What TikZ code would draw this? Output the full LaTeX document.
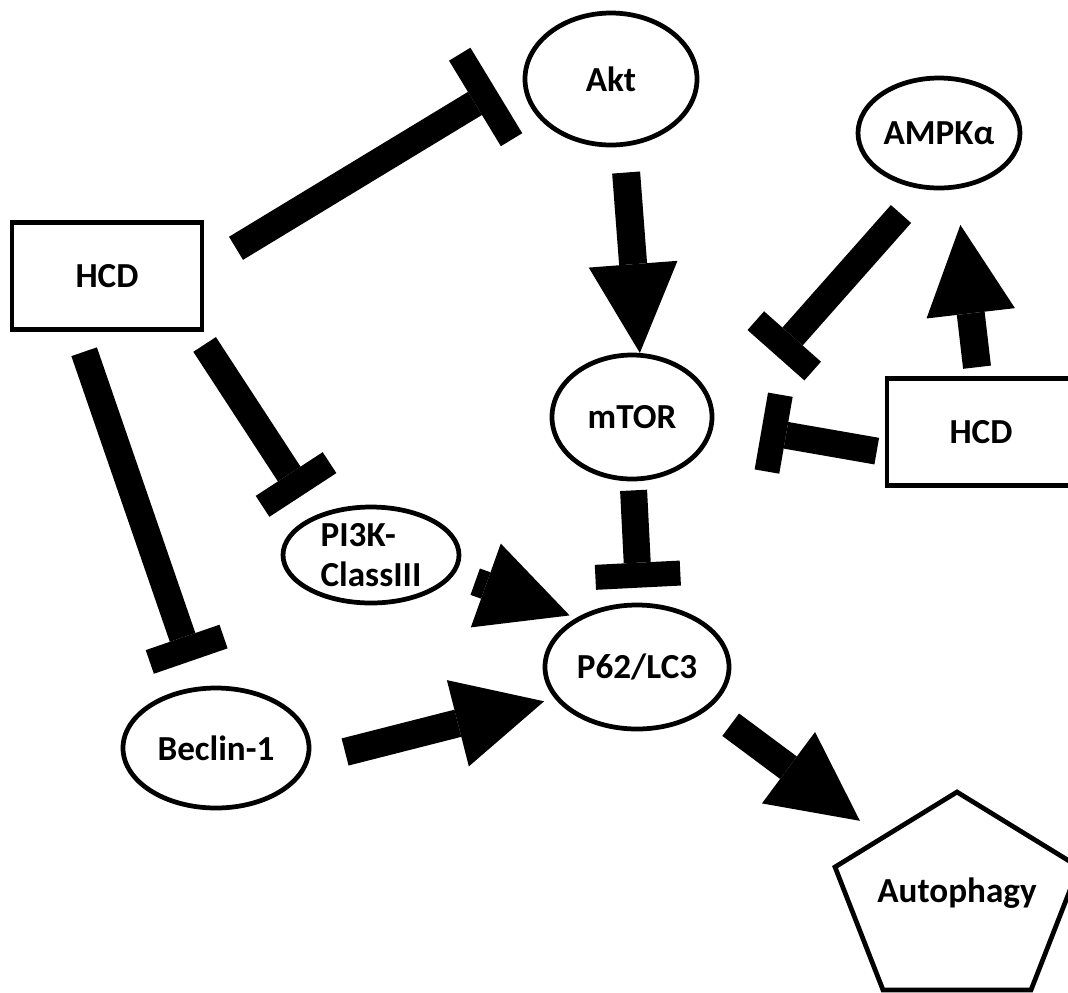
\documentclass[tikz,border=0pt]{standalone}
\usepackage{fontspec}
\setmainfont{Carlito}
\usetikzlibrary{arrows.meta,shapes.geometric}

\tikzset{
  lbl/.style={font=\fontsize{10pt}{11.5pt}\selectfont\bfseries},
  mol/.style={ellipse,draw,line width=1.35pt,inner sep=0pt,lbl},
  hcdbox/.style={rectangle,draw,line width=1.35pt,inner sep=0pt,
    minimum width=1.9cm,minimum height=1.07cm,lbl},
  act/.style={line width=2.8mm,-{Triangle[length=8.9mm,width=8.9mm,line width=0pt]}},
  inh/.style={line width=2.7mm,-{Rectangle[length=2.5mm,width=#1,line width=0pt]}},
  inh/.default=8mm
}

\begin{document}
\begin{tikzpicture}
\useasboundingbox (0,0) rectangle (10.68,-9.92);

% nodes
\node[hcdbox] (hcdl) at (1.07,-2.76) {HCD};
\node[hcdbox,minimum width=1.88cm] (hcdr) at (9.81,-4.32) {HCD};
\node[mol,minimum width=1.72cm,minimum height=1.32cm] (akt) at (6.11,-0.79) {Akt};
\node[mol,minimum width=1.62cm,minimum height=1.10cm] (ampk) at (9.39,-1.33) {AMPKα};
\node[mol,minimum width=1.60cm,minimum height=1.24cm] (mtor) at (6.32,-4.17) {mTOR};
\node[mol,minimum width=1.76cm,minimum height=0.96cm,align=left] (pik) at (3.71,-5.55) {PI3K-\\ClassIII};
\node[mol,minimum width=1.84cm,minimum height=1.24cm] (p62) at (6.37,-6.67) {P62/LC3};
\node[mol,minimum width=1.86cm,minimum height=1.20cm] (bec) at (2.16,-7.48) {Beclin-1};

% autophagy pentagon
\draw[line width=1.35pt] (9.57,-7.92) -- (10.79,-8.67) -- (10.31,-9.90)
  -- (8.83,-9.90) -- (8.35,-8.67) -- cycle;
\node[lbl] (autoph) at (9.57,-8.93) {Autophagy};

% connectors
\draw[inh=1cm,shorten <=3.7mm,shorten >=3.1mm] (hcdl.5) -- (akt.177);
\draw[act,shorten <=2.6mm] (akt.-79) -- (mtor.83);
\draw[inh=7.6mm,shorten <=3.3mm,shorten >=9.4mm] (ampk.-106) -- (mtor.-6);
\draw[act,shorten <=0.9mm,shorten >=3.6mm] (hcdr.93) -- (ampk.-73);
\draw[inh=7.8mm,shorten <=0.8mm,shorten >=4.8mm] (hcdr.192) -- (mtor.-4);
\draw[inh=8.5mm,shorten <=0.9mm,shorten >=1.5mm] (mtor.-89) -- (p62.88);
\draw[act,shorten <=2.2mm,shorten >=0.7mm] (pik.-13) -- (p62.141);
\draw[inh,shorten <=1.5mm,shorten >=2.4mm] (hcdl.-32.5) -- (pik.144);
\draw[inh=7.8mm,shorten <=2.1mm,shorten >=2.7mm] (hcdl.-118) -- (bec.105);
\draw[act,shorten <=3.7mm,shorten >=1.1mm] (bec.-8) -- (p62.201);
\draw[act,shorten <=2.7mm,shorten >=12.1mm] (p62.-30) -- (autoph.center);
\end{tikzpicture}
\end{document}
